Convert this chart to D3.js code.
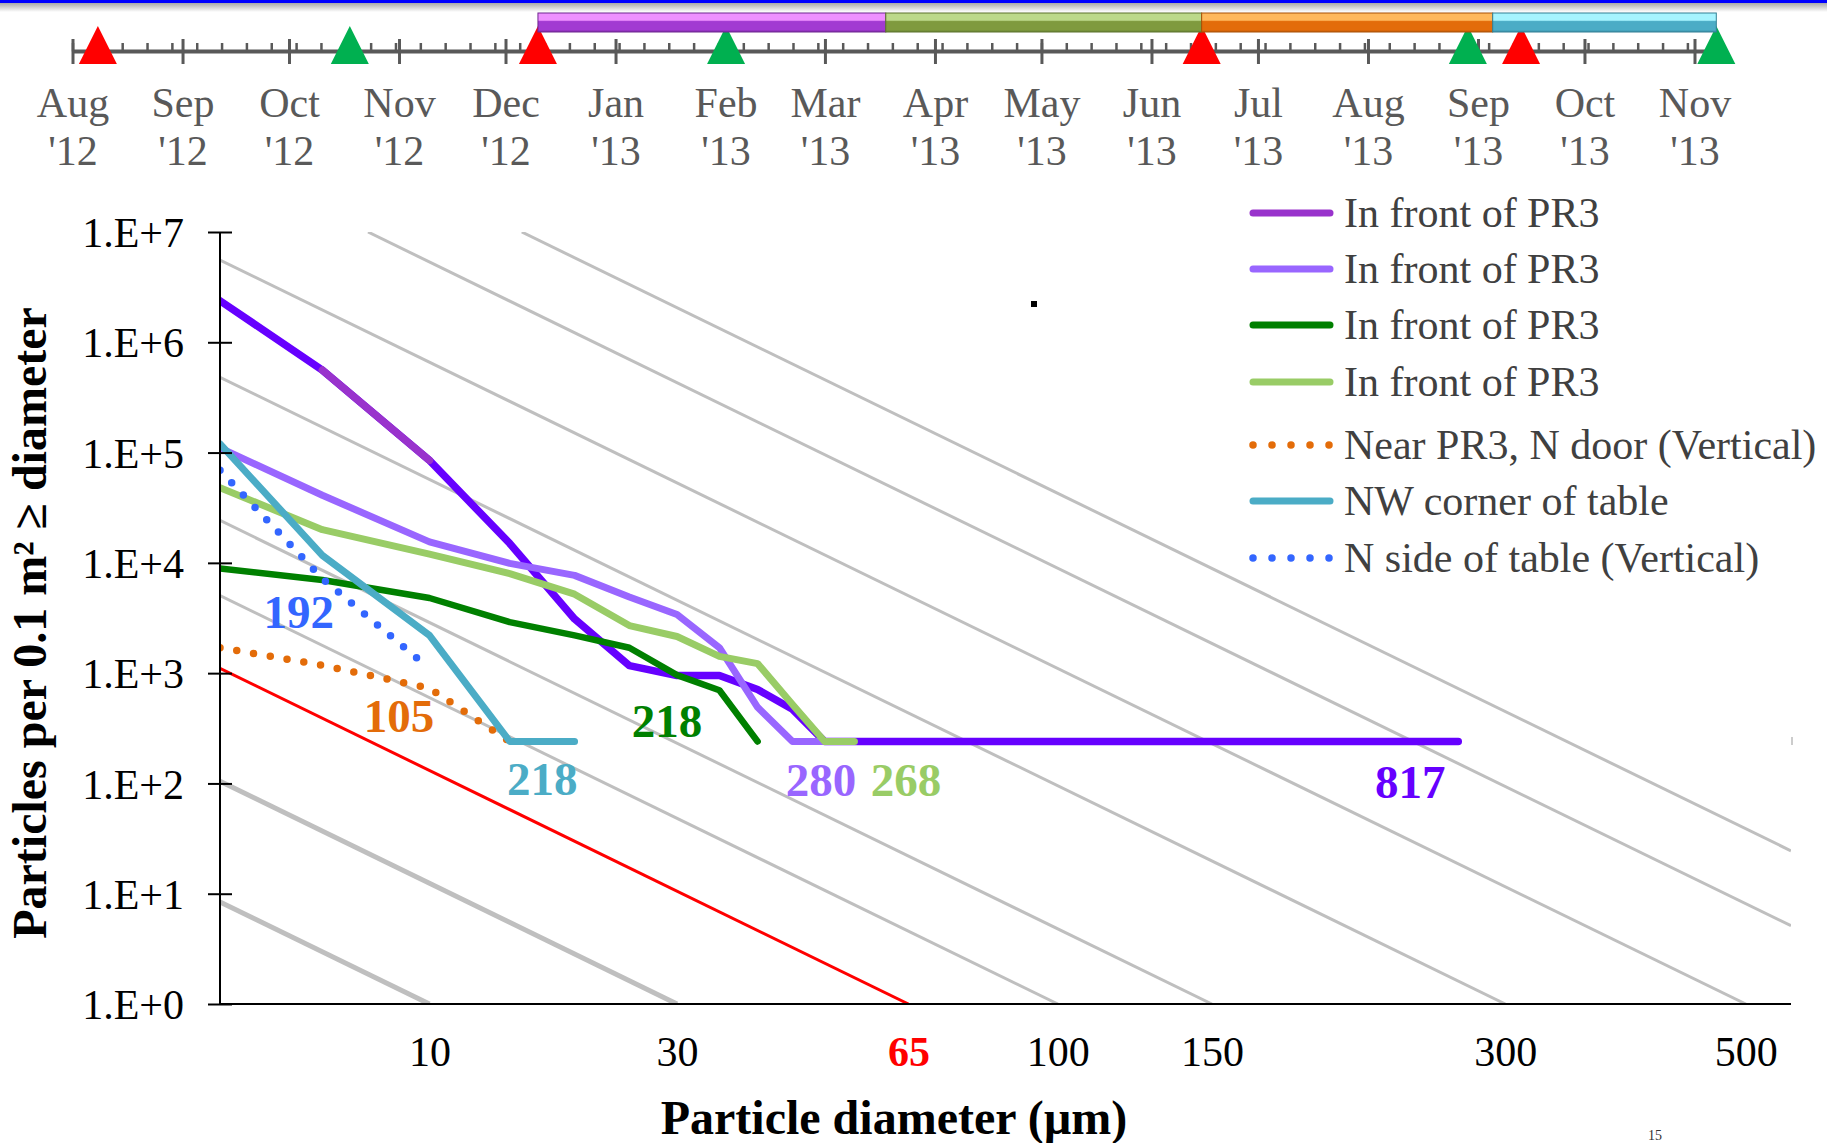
<!DOCTYPE html>
<html><head><meta charset="utf-8">
<script src="https://cdn.jsdelivr.net/npm/d3@7"></script>
<style>
body{margin:0;background:#fff;}
svg{display:block;font-family:"Liberation Serif","Times New Roman",serif;}
</style>
</head><body>
<svg id="chart" width="1827" height="1143"></svg>
<script>
// ---------------- DATA ----------------
// Timeline
const monthLabels = ["Aug '12","Sep '12","Oct '12","Nov '12","Dec '12","Jan '13","Feb '13","Mar '13","Apr '13","May '13","Jun '13","Jul '13","Aug '13","Sep '13","Oct '13","Nov '13"];
const timelineStart = "2012-08-01";
const timelineEnd = "2013-11-07";
const redMarkers = ["2012-08-08","2012-12-10","2013-06-15","2013-09-13"];
const greenMarkers = ["2012-10-18","2013-02-01","2013-08-29","2013-11-07"];
const phaseStarts = ["2012-12-10","2013-03-18","2013-06-15","2013-09-05"];
const phaseEnds   = ["2013-03-18","2013-06-15","2013-09-05","2013-11-07"];

// Axes
const yTickValues = [1,10,100,1000,10000,100000,1000000,10000000];
const yTickLabels = ["1.E+0","1.E+1","1.E+2","1.E+3","1.E+4","1.E+5","1.E+6","1.E+7"];
const xTickValues = [10,30,65,100,150,300,500];
const xTickLabels = ["10","30","65","100","150","300","500"];
const cleanlinessLevels = [10,30,100,150,300,500,750,1000];
const highlightLevel = 65;

// Legend
const legendNames = ["In front of PR3","In front of PR3","In front of PR3","In front of PR3","Near PR3, N door (Vertical)","NW corner of table","N side of table (Vertical)"];

// Series (diameter µm, particles per 0.1 m² >= diameter)
const violetD = [1,5,10,15,20,25,30,35,40,45,50,270];
const violetN = [2.38e6,5.6e5,8.5e4,1.5e4,3.1e3,1170,950,950,710,470,240,240];
const purpleD = [5,10];
const purpleN = [5.6e5,8.5e4];
const lavenderD = [1,5,10,15,20,25,30,35,40,45,50];
const lavenderN = [1.1e5,4.1e4,1.55e4,9.9e3,7.7e3,4.9e3,3.4e3,1.7e3,490,240,240];
const darkGreenD = [1,5,10,15,20,25,30,35,40];
const darkGreenN = [8.9e3,7.0e3,4.8e3,2.9e3,2.2e3,1.7e3,960,700,240];
const lightGreenD = [1,5,10,15,20,25,30,35,40,45,50,55];
const lightGreenN = [4.8e4,2.0e4,1.2e4,8.0e3,5.2e3,2.7e3,2.15e3,1.42e3,1.22e3,520,240,240];
const orangeD = [1,5,10,15];
const orangeN = [1.7e3,1.18e3,730,240];
const tealD = [1,5,10,15,20];
const tealN = [1.2e5,1.17e4,2.2e3,240,240];
const blueD = [1,5,10];
const blueN = [6.9e4,7.2e3,1.1e3];

// Largest particle observed per series (µm)
const maxSizeLabels = ["817","280","218","268","105","218","192"];

// ---------------- DRAW ----------------
const svg = d3.select("#chart");
const W = 1827, H = 1143;
const defs = svg.append("defs");

// header band
svg.append("rect").attr("x",0).attr("y",0).attr("width",W).attr("height",3).attr("fill","#0000FF");
const hg = defs.append("linearGradient").attr("id","hshadow").attr("x1",0).attr("x2",0).attr("y1",0).attr("y2",1);
hg.append("stop").attr("offset","0%").attr("stop-color","#a8a8a8");
hg.append("stop").attr("offset","100%").attr("stop-color","#ffffff");
svg.append("rect").attr("x",0).attr("y",3).attr("width",W).attr("height",9).attr("fill","url(#hshadow)");

// ---- timeline ----
const tp = d3.timeParse("%Y-%m-%d");
const tx = d3.scaleTime().domain([tp("2012-08-01"), tp("2013-11-01")]).range([73, 1695]);
const TL_Y = 51.5;
const tl = svg.append("g");
tl.append("line").attr("x1",tx(tp(timelineStart))).attr("x2",tx(tp(timelineEnd)))
  .attr("y1",TL_Y).attr("y2",TL_Y).attr("stroke","#595959").attr("stroke-width",4);
// weekly minor ticks
tl.selectAll(".minor").data(d3.timeWednesday.range(tp(timelineStart), d3.timeDay.offset(tp(timelineEnd),1)))
  .join("line").attr("x1",d=>tx(d)).attr("x2",d=>tx(d)).attr("y1",43).attr("y2",TL_Y)
  .attr("stroke","#595959").attr("stroke-width",2.5);
// monthly major ticks + labels
const months = d3.timeMonth.range(tp(timelineStart), d3.timeDay.offset(tp(timelineEnd),1));
tl.selectAll(".major").data(months).join("line")
  .attr("x1",d=>tx(d)).attr("x2",d=>tx(d)).attr("y1",39).attr("y2",64)
  .attr("stroke","#595959").attr("stroke-width",3);
const ml = tl.selectAll(".mlab").data(months).join("text")
  .attr("text-anchor","middle").attr("font-size",42).attr("fill","#595959");
ml.append("tspan").attr("x",d=>tx(d)).attr("y",117).text((d,i)=>monthLabels[i].split(" ")[0]);
ml.append("tspan").attr("x",d=>tx(d)).attr("y",165).text((d,i)=>monthLabels[i].split(" ")[1]);

// markers
function tri(d){const c=tx(tp(d));return `M${c-19},64L${c+19},64L${c},26Z`;}
tl.selectAll(".red").data(redMarkers).join("path").attr("d",tri).attr("fill","#FF0000");
tl.selectAll(".green").data(greenMarkers).join("path").attr("d",tri).attr("fill","#00B050");

// phase bars
const phaseColors = [
  {top:"#EE90FF", main:"#A23AD2", dark:"#7E2AA8", edge:"#6E2690"},
  {top:"#BCD98A", main:"#7F9A3E", dark:"#6A8434", edge:"#5C722C"},
  {top:"#FFB85C", main:"#E36C0A", dark:"#C45C08", edge:"#A85006"},
  {top:"#A6F4FF", main:"#4BACC6", dark:"#3A93AB", edge:"#327F94"}
];
phaseColors.forEach((c,i)=>{
  const g = defs.append("linearGradient").attr("id","ph"+i).attr("x1",0).attr("x2",0).attr("y1",0).attr("y2",1);
  g.append("stop").attr("offset","0%").attr("stop-color",c.top);
  g.append("stop").attr("offset","38%").attr("stop-color",c.top);
  g.append("stop").attr("offset","45%").attr("stop-color",c.main);
  g.append("stop").attr("offset","88%").attr("stop-color",c.main);
  g.append("stop").attr("offset","100%").attr("stop-color",c.dark);
});
tl.selectAll(".phase").data(phaseStarts).join("rect")
  .attr("x",d=>tx(tp(d))).attr("y",13)
  .attr("width",(d,i)=>tx(tp(phaseEnds[i]))-tx(tp(d))).attr("height",19)
  .attr("fill",(d,i)=>`url(#ph${i})`).attr("stroke",(d,i)=>phaseColors[i].edge).attr("stroke-width",1);

// ---- main chart ----
const X0 = 220, X1 = 1791, YT = 232, YB = 1004;
const sq = d => Math.pow(Math.log10(d), 2);
const xq = d3.scaleLinear().domain([0, 7.5]).range([X0, X1]);
const x = d => xq(sq(d));
const y = d3.scaleLog().domain([1, 1e7]).range([YB, YT]);

defs.append("clipPath").attr("id","plot").append("rect")
  .attr("x",X0).attr("y",YT).attr("width",X1-X0).attr("height",YB-YT);
const plot = svg.append("g").attr("clip-path","url(#plot)");

// cleanliness level reference lines (log N = 0.926 (log²L − log²x))
const slope = 0.926;
function levelSeg(L){
  const s1 = sq(L);
  const a = Math.max(0, s1 - 7/slope), b = Math.min(7.5, s1);
  return [[a, Math.pow(10, slope*(s1-a))],[b, Math.pow(10, slope*(s1-b))]];
}
plot.selectAll(".lvl").data(cleanlinessLevels).join("line")
  .each(function(L){
    const s = levelSeg(L);
    d3.select(this).attr("x1",xq(s[0][0])).attr("y1",y(s[0][1])).attr("x2",xq(s[1][0])).attr("y2",y(s[1][1]));
  })
  .attr("stroke","#BFBFBF").attr("stroke-width",L=>L<=30?5:3);
{
  const s = levelSeg(highlightLevel);
  plot.append("line").attr("x1",xq(s[0][0])).attr("y1",y(s[0][1])).attr("x2",xq(s[1][0])).attr("y2",y(s[1][1]))
    .attr("stroke","#FF0000").attr("stroke-width",3);
}

const line = d3.line().x(p=>x(p[0])).y(p=>y(p[1]));
const zip = (D,N)=>D.map((d,i)=>[d,N[i]]);
const series = [
  {D:violetD, N:violetN, color:"#6600FF", w:7.5, dot:false},
  {D:purpleD, N:purpleN, color:"#9933CC", w:7.5, dot:false},
  {D:lavenderD, N:lavenderN, color:"#9966FF", w:7, dot:false},
  {D:darkGreenD, N:darkGreenN, color:"#008000", w:6.5, dot:false},
  {D:lightGreenD, N:lightGreenN, color:"#99CC66", w:7, dot:false},
  {D:orangeD, N:orangeN, color:"#E36C09", w:7.5, dot:true},
  {D:tealD, N:tealN, color:"#4BACC6", w:7, dot:false},
  {D:blueD, N:blueN, color:"#3366FF", w:7.5, dot:true}
];
series.forEach(s=>{
  plot.append("path").attr("d", line(zip(s.D,s.N)))
    .attr("fill","none").attr("stroke",s.color).attr("stroke-width",s.w)
    .attr("stroke-linecap","round").attr("stroke-linejoin","round")
    .attr("stroke-dasharray", s.dot ? "0 17" : null);
});

// axes
const yAxis = d3.axisLeft(y).tickValues(yTickValues).tickFormat((d,i)=>yTickLabels[i]).tickSize(12).tickPadding(0);
const yg = svg.append("g").attr("transform",`translate(${X0},0)`).call(yAxis);
yg.select(".domain").remove();
yg.selectAll(".tick line").attr("x1",-12).attr("x2",12).attr("stroke","#000").attr("stroke-width",2);
yg.selectAll(".tick text").attr("x",-36).attr("dy","0.35em").attr("font-size",42)
  .attr("font-family","Liberation Serif").attr("fill","#000");
svg.append("line").attr("x1",X0).attr("x2",X0).attr("y1",YT).attr("y2",YB).attr("stroke","#000").attr("stroke-width",2);
svg.append("line").attr("x1",X0).attr("x2",X1).attr("y1",YB).attr("y2",YB).attr("stroke","#000").attr("stroke-width",2);

const xAxis = d3.axisBottom(xq).tickValues(xTickValues.map(sq)).tickFormat((d,i)=>xTickLabels[i]).tickSize(0);
const xg = svg.append("g").attr("transform",`translate(0,${YB})`).call(xAxis);
xg.select(".domain").remove();
xg.selectAll(".tick text").attr("y",62).attr("dy",null).attr("font-size",42)
  .attr("font-family","Liberation Serif")
  .attr("fill",(d,i)=>xTickValues[i]===highlightLevel?"#FF0000":"#000")
  .attr("font-weight",(d,i)=>xTickValues[i]===highlightLevel?"bold":"normal");

// axis titles
svg.append("text").attr("x",894).attr("y",1134).attr("text-anchor","middle")
  .attr("font-size",48).attr("font-weight","bold").attr("fill","#000").text("Particle diameter (µm)");
svg.append("text").attr("transform","translate(46,623) rotate(-90)").attr("text-anchor","middle")
  .attr("font-size",48).attr("font-weight","bold").attr("fill","#000").text("Particles per 0.1 m² ≥ diameter");

// max-size labels (anchor in data units)
const labelLayout = [
  {i:0, d:242, n:73.7, color:"#6600FF"},
  {i:1, d:49.4, n:77, color:"#9966FF"},
  {i:2, d:28.9, n:265, color:"#008000"},
  {i:3, d:64.5, n:77, color:"#99CC66"},
  {i:4, d:8.4, n:294, color:"#E36C09"},
  {i:5, d:17.4, n:78.5, color:"#4BACC6"},
  {i:6, d:4.1, n:2565, color:"#3366FF"}
];
svg.selectAll(".mlabel").data(labelLayout).join("text")
  .attr("x",l=>x(l.d)).attr("y",l=>y(l.n)).attr("text-anchor","middle")
  .attr("font-size",47).attr("font-weight","bold").attr("fill",l=>l.color)
  .text(l=>maxSizeLabels[l.i]);

// legend
const legendColors = ["#9933CC","#9966FF","#008000","#99CC66","#E36C09","#4BACC6","#3366FF"];
const legendDots = [false,false,false,false,true,false,true];
const legendRowY = [213,269,325,382,445,501,558];
const lg = svg.append("g");
legendNames.forEach((name,i)=>{
  const ly = legendRowY[i];
  lg.append("line").attr("x1",1253).attr("x2",1330).attr("y1",ly).attr("y2",ly)
    .attr("stroke",legendColors[i]).attr("stroke-width",legendDots[i]?7.5:7)
    .attr("stroke-linecap","round").attr("stroke-dasharray",legendDots[i]?"0 19":null);
  lg.append("text").attr("x",1344).attr("y",ly+14).attr("font-size",42).attr("fill","#404040").text(name);
});

// small artefacts present in the original slide
svg.append("rect").attr("x",1031).attr("y",301).attr("width",6).attr("height",6).attr("fill","#000");
svg.append("line").attr("x1",1792).attr("x2",1792).attr("y1",737).attr("y2",745).attr("stroke","#999").attr("stroke-width",1);
svg.append("text").attr("x",1648).attr("y",1140).attr("font-size",14).attr("fill","#333").text("15");
</script>
</body></html>
